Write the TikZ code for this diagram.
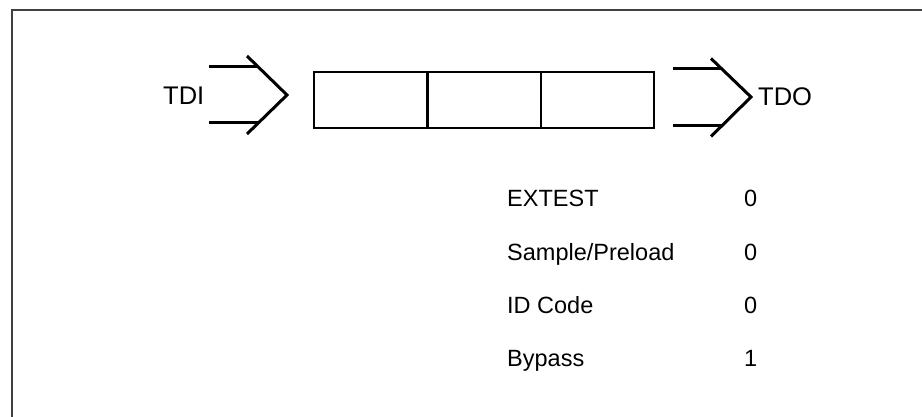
\documentclass[tikz,border=0pt]{standalone}
\usepackage{fontspec}
\setmainfont{Liberation Sans}
\begin{document}
\begin{tikzpicture}[x=1pt,y=-1pt,
  cell/.style={draw=black,line width=2.4pt,minimum width=113.3pt,minimum height=56pt,inner sep=0pt,anchor=north west},
  chev/.style={line width=3pt,line cap=butt,line join=miter},
  pin/.style={inner sep=0pt,font=\fontsize{25.5}{30}\selectfont},
  item/.style={inner sep=0pt,anchor=base west,font=\fontsize{23.5}{28}\selectfont}]
\useasboundingbox (0,0) rectangle (922,417);
% frame
\draw[line width=1.8pt,draw=black!75] (12,420) -- (12,10) -- (925,10);
% register cells
\node[cell] (c1) at (313,71) {};
\node[cell] (c2) at (426.3,71) {};
\node[cell] (c3) at (539.6,71) {};
% TDI chevron
\draw[chev] (209,67) -- (258.3,67);
\draw[chev] (209,123) -- (258.3,123);
\draw[chev] (247,56) -- (287,95) -- (247,134);
\node[pin,anchor=east] (tdi) at (204.5,95.5) {TDI};
% TDO chevron
\draw[chev] (673,69) -- (721.5,69);
\draw[chev] (673,126) -- (721.5,126);
\draw[chev] (711,58.5) -- (751,97) -- (711,136.5);
\node[pin,anchor=west] (tdo) at (758,97) {TDO};
% instruction list
\node[item] (i1) at (507,207) {EXTEST};
\node[item] (i2) at (507,260) {Sample/Preload};
\node[item] (i3) at (507,313.3) {ID Code};
\node[item] (i4) at (507,366.7) {Bypass};
\node[item] (v1) at (744,207) {0};
\node[item] (v2) at (744,260) {0};
\node[item] (v3) at (744,313.3) {0};
\node[item] (v4) at (744,366.7) {1};
\end{tikzpicture}
\end{document}
